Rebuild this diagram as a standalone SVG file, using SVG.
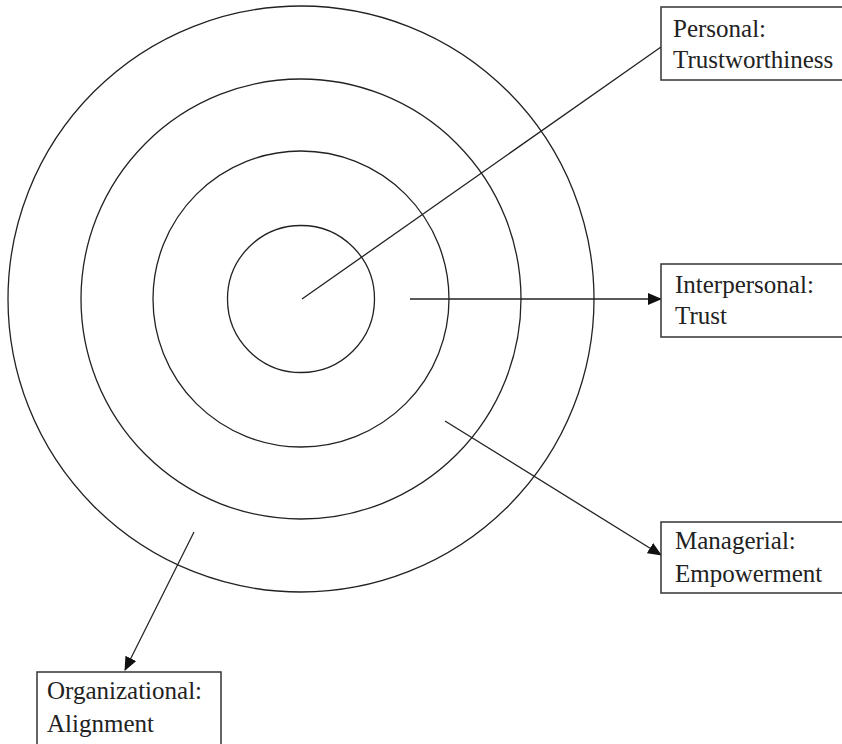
<svg xmlns="http://www.w3.org/2000/svg" width="842" height="744" viewBox="0 0 842 744">
<style>
.ring{fill:none;stroke:#222;stroke-width:1.3}
.box{fill:#fff;stroke:#333;stroke-width:1.5}
.lbl{font-family:"Liberation Serif","Times New Roman",serif;font-size:25px;fill:#222}
.conn{stroke:#222;stroke-width:1.3;fill:none}
</style>
<defs>
<marker id="arr" markerWidth="14" markerHeight="12" refX="13" refY="6" orient="auto" markerUnits="userSpaceOnUse">
<path d="M0,0 L14,6 L0,12 Z" fill="#111"/>
</marker>
</defs>
<rect width="842" height="744" fill="#fff"/>
<g id="rings">
<circle class="ring" cx="301" cy="299" r="293"/>
<circle class="ring" cx="301" cy="299" r="220"/>
<circle class="ring" cx="301" cy="299" r="148"/>
<circle class="ring" cx="301" cy="299" r="73.5"/>
</g>
<g id="connectors">
<line class="conn" x1="302" y1="299" x2="661" y2="47"/>
<line class="conn" x1="410" y1="299" x2="661" y2="299" marker-end="url(#arr)"/>
<line class="conn" x1="445" y1="421" x2="661" y2="555" marker-end="url(#arr)"/>
<line class="conn" x1="194" y1="532" x2="125" y2="670" marker-end="url(#arr)"/>
</g>
<g id="personal">
<rect class="box" x="661" y="7" width="190" height="73"/>
<text class="lbl" x="673" y="37">Personal:</text>
<text class="lbl" x="673" y="68">Trustworthiness</text>
</g>
<g id="interpersonal">
<rect class="box" x="661" y="264" width="190" height="73"/>
<text class="lbl" x="675" y="293">Interpersonal:</text>
<text class="lbl" x="675" y="324">Trust</text>
</g>
<g id="managerial">
<rect class="box" x="661" y="522" width="190" height="71"/>
<text class="lbl" x="675" y="549">Managerial:</text>
<text class="lbl" x="675" y="582">Empowerment</text>
</g>
<g id="organizational">
<rect class="box" x="37" y="672" width="184" height="80"/>
<text class="lbl" x="47" y="699">Organizational:</text>
<text class="lbl" x="47" y="732">Alignment</text>
</g>
</svg>
